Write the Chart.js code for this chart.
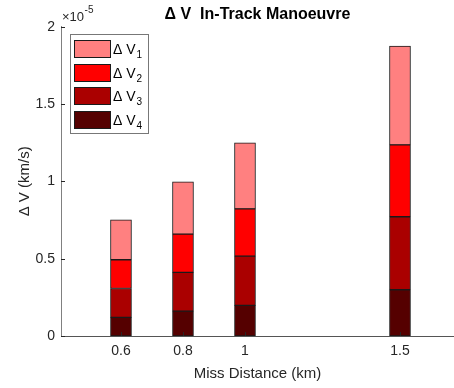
<!DOCTYPE html>
<html><head><meta charset="utf-8">
<script src="https://cdn.jsdelivr.net/npm/chart.js@4/dist/chart.umd.min.js"></script>
<style>html,body{margin:0;padding:0;background:#fff;overflow:hidden}#wrap{width:454px;height:388px}</style>
</head><body><div id="wrap"><canvas id="c" width="454" height="388"></canvas></div>
<script>
// Miss distance categories (km)
const missDistance = [0.6, 0.8, 1, 1.5];
const xTickValues = [0.6, 0.8, 1, 1.5];
const yTickValues = [0, 0.5, 1, 1.5, 2];
// Delta-V components, in units of 1e-5 km/s
const dV1 = [0.258, 0.338, 0.427, 0.639];
const dV2 = [0.186, 0.248, 0.305, 0.465];
const dV3 = [0.187, 0.250, 0.319, 0.472];
const dV4 = [0.120, 0.161, 0.198, 0.299];
const seriesNames = ['1', '2', '3', '4'];
const seriesColors = ['#ff8080', '#ff0000', '#aa0000', '#550000'];
const FONT = "'Liberation Sans', Arial, Helvetica, sans-serif";

const allSeries = [dV1, dV2, dV3, dV4];
// stacking from bottom: V4, V3, V2, V1
const order = [3, 2, 1, 0];
const datasets = order.map(i => ({
  label: 'Δ V' + seriesNames[i],
  sub: seriesNames[i],
  data: missDistance.map((x, k) => ({x: x, y: allSeries[i][k]})),
  backgroundColor: seriesColors[i],
  borderColor: '#1a1a1a',
  borderWidth: 1,
  borderSkipped: false,
  barThickness: 21
}));

const extras = {
  id: 'extras',
  afterDraw(chart) {
    const ctx = chart.ctx;
    const ca = chart.chartArea;
    const xs = chart.scales.x, ys = chart.scales.y;
    ctx.save();
    // inward tick marks
    ctx.strokeStyle = '#262626';
    ctx.lineWidth = 1;
    ctx.beginPath();
    yTickValues.forEach(v => {
      const py = Math.round(ys.getPixelForValue(v)) + 0.5;
      ctx.moveTo(ca.left, py); ctx.lineTo(ca.left + 4, py);
    });
    xTickValues.forEach(v => {
      const px = Math.round(xs.getPixelForValue(v)) + 0.5;
      ctx.moveTo(px, ca.bottom); ctx.lineTo(px, ca.bottom - 4);
    });
    ctx.stroke();
    // exponent label
    ctx.fillStyle = '#262626';
    ctx.textBaseline = 'alphabetic';
    ctx.textAlign = 'left';
    ctx.font = '13px ' + FONT;
    ctx.fillText('×10', 62, 21);
    const w = ctx.measureText('×10').width;
    ctx.font = '10px ' + FONT;
    ctx.fillText('-5', 62 + w + 0.5, 13);
    // legend
    const lx = 70.5, ly = 34.5, lw = 78, lh = 99;
    ctx.fillStyle = '#fff';
    ctx.fillRect(lx, ly, lw, lh);
    ctx.strokeStyle = '#777';
    ctx.strokeRect(lx, ly, lw, lh);
    const dsList = chart.data.datasets.slice().reverse();
    dsList.forEach((ds, k) => {
      const top = 40 + k * 23.7;
      const t = Math.round(top) + 0.5;
      ctx.fillStyle = ds.backgroundColor;
      ctx.fillRect(74.5, t, 36, 17);
      ctx.strokeStyle = '#1a1a1a';
      ctx.strokeRect(74.5, t, 36, 17);
      ctx.fillStyle = '#000';
      ctx.font = '14px ' + FONT;
      ctx.fillText('Δ V', 113, t + 13);
      const tw = ctx.measureText('Δ V').width;
      ctx.font = '10px ' + FONT;
      ctx.fillText(ds.sub, 113 + tw + 1, t + 17);
    });
    ctx.restore();
  }
};

new Chart(document.getElementById('c'), {
  type: 'bar',
  data: {datasets: datasets},
  plugins: [extras],
  options: {
    responsive: false,
    animation: false,
    devicePixelRatio: 1,
    layout: {padding: {left: 0, right: 0, top: 0, bottom: 0}},
    plugins: {
      legend: {display: false},
      tooltip: {enabled: false},
      title: {
        display: true, fullSize: false,
        text: 'Δ V  In-Track Manoeuvre',
        color: '#000',
        font: {family: FONT, size: 16, weight: 'bold', lineHeight: 1.2},
        padding: {top: 5, bottom: 2.5}
      }
    },
    scales: {
      x: {
        type: 'linear', stacked: true, offset: false,
        min: 0.4065, max: 1.6742,
        afterBuildTicks: s => { s.ticks = xTickValues.map(v => ({value: v})); },
        afterFit: s => { s.height = 52; },
        ticks: {callback: v => String(v), color: '#262626', font: {family: FONT, size: 14}, padding: 7, maxRotation: 0, autoSkip: false},
        grid: {display: false, drawTicks: false},
        border: {display: true, color: '#555', width: 1},
        title: {display: true, text: 'Miss Distance (km)', color: '#262626', font: {family: FONT, size: 15, lineHeight: 1.2}, padding: {top: 0, bottom: 5}}
      },
      y: {
        stacked: true, min: 0, max: 2,
        afterBuildTicks: s => { s.ticks = yTickValues.map(v => ({value: v})); },
        afterFit: s => { s.width = 61; },
        ticks: {callback: v => String(v), color: '#262626', font: {family: FONT, size: 14}, padding: 6},
        grid: {display: false, drawTicks: false},
        border: {display: true, color: '#808080', width: 1},
        title: {display: true, text: 'Δ V (km/s)', color: '#262626', font: {family: FONT, size: 15, lineHeight: 1.2}, padding: {top: 16, bottom: 0}}
      }
    }
  }
});
</script>
</body></html>
